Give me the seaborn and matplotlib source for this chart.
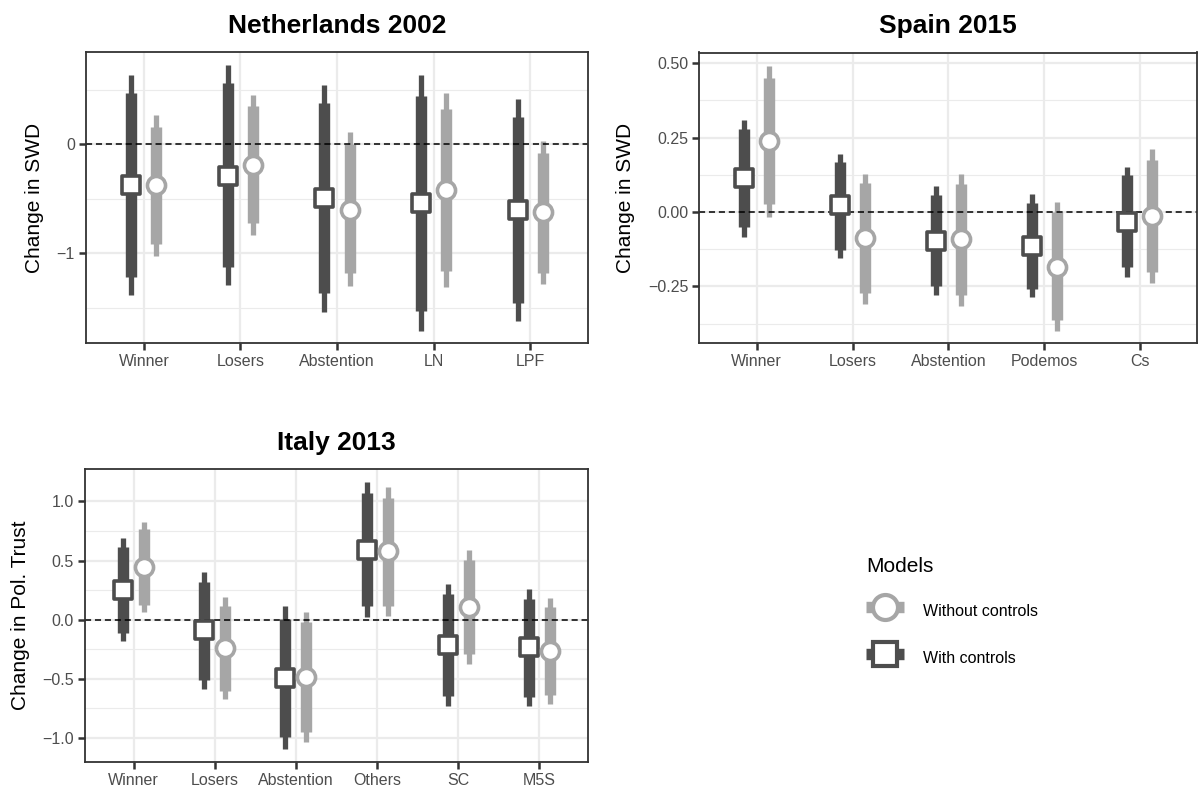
import numpy as np
import pandas as pd
import matplotlib
matplotlib.use("Agg")
import matplotlib.pyplot as plt
from matplotlib.lines import Line2D
from matplotlib.ticker import FixedLocator
import seaborn as sns

# ---------------- data ----------------
nl_cats = ["Winner", "Losers", "Abstention", "LN", "LPF"]
nl_with_est = [-0.378, -0.287, -0.497, -0.543, -0.604]
nl_with_lo90 = [-1.22, -1.128, -1.366, -1.524, -1.457]
nl_with_hi90 = [0.473, 0.558, 0.375, 0.442, 0.247]
nl_with_lo95 = [-1.38, -1.29, -1.537, -1.713, -1.622]
nl_with_hi95 = [0.637, 0.723, 0.546, 0.631, 0.412]
nl_wo_est = [-0.378, -0.186, -0.598, -0.421, -0.625]
nl_wo_lo90 = [-0.918, -0.723, -1.183, -1.162, -1.177]
nl_wo_hi90 = [0.159, 0.348, 0.0, 0.326, -0.079]
nl_wo_lo95 = [-1.02, -0.829, -1.299, -1.308, -1.284]
nl_wo_hi95 = [0.265, 0.448, 0.110, 0.473, 0.027]

es_cats = ["Winner", "Losers", "Abstention", "Podemos", "Cs"]
es_with_est = [0.113, 0.023, -0.096, -0.114, -0.032]
es_with_lo90 = [-0.051, -0.126, -0.25, -0.259, -0.185]
es_with_hi90 = [0.279, 0.169, 0.058, 0.032, 0.123]
es_with_lo95 = [-0.083, -0.155, -0.28, -0.287, -0.217]
es_with_hi95 = [0.310, 0.196, 0.088, 0.059, 0.152]
es_wo_est = [0.238, -0.088, -0.092, -0.183, -0.013]
es_wo_lo90 = [0.026, -0.272, -0.278, -0.364, -0.20]
es_wo_hi90 = [0.451, 0.096, 0.093, 0.0, 0.174]
es_wo_lo95 = [-0.018, -0.308, -0.315, -0.401, -0.237]
es_wo_hi95 = [0.492, 0.129, 0.127, 0.035, 0.211]

it_cats = ["Winner", "Losers", "Abstention", "Others", "SC", "M5S"]
it_with_est = [0.254, -0.085, -0.494, 0.593, -0.215, -0.234]
it_with_lo90 = [-0.113, -0.506, -0.994, 0.113, -0.644, -0.650]
it_with_hi90 = [0.616, 0.322, 0.006, 1.073, 0.220, 0.178]
it_with_lo95 = [-0.184, -0.585, -1.09, 0.020, -0.729, -0.729]
it_with_hi95 = [0.689, 0.401, 0.113, 1.167, 0.305, 0.260]
it_wo_est = [0.446, -0.240, -0.483, 0.579, 0.110, -0.263]
it_wo_lo90 = [0.127, -0.599, -0.946, 0.119, -0.294, -0.636]
it_wo_hi90 = [0.763, 0.119, -0.023, 1.028, 0.508, 0.110]
it_wo_lo95 = [0.062, -0.672, -1.037, 0.034, -0.373, -0.709]
it_wo_hi95 = [0.828, 0.192, 0.068, 1.119, 0.588, 0.186]

model_labels = ["Without controls", "With controls"]

# ---------------- style ----------------
sns.set_theme(style="white")
plt.rcParams['font.family'] = ['Liberation Sans', 'DejaVu Sans']
plt.rcParams['axes.unicode_minus'] = True
plt.rcParams['text.color'] = 'black'

DARK = "#4D4D4D"
LIGHT = "#A6A6A6"
GRID = "#EBEBEB"
BORDER = "#333333"
TICKC = "#4D4D4D"

W, H = 1198, 789
fig = plt.figure(figsize=(W / 100, H / 100), dpi=100)


def px_axes(l, t, r, b):
    return fig.add_axes([l / W, 1 - b / H, (r - l) / W, (b - t) / H])


DODGE = 0.13


def draw_panel(ax, cats, with_vals, wo_vals, title, ylabel, ylim, yticks, ylabels, yminor):
    n = len(cats)
    xs = np.arange(1, n + 1)
    for vals, off, col, mk, sz in [(with_vals, -DODGE, DARK, 's', 155),
                                   (wo_vals, DODGE, LIGHT, 'o', 170)]:
        est, lo90, hi90, lo95, hi95 = vals
        df = pd.DataFrame({"x": xs + off, "est": est, "lo90": lo90, "hi90": hi90,
                           "lo95": lo95, "hi95": hi95})
        ax.vlines(df["x"], df["lo95"], df["hi95"], color=col, lw=3.8, zorder=2,
                  capstyle='butt')
        ax.vlines(df["x"], df["lo90"], df["hi90"], color=col, lw=8.2, zorder=2.1,
                  capstyle='butt')
        sns.scatterplot(data=df, x="x", y="est", ax=ax, marker=mk, s=sz,
                        facecolor="white", edgecolor=col, linewidth=2.6,
                        zorder=3, legend=False)
    ax.axhline(0, color="black", lw=1.1, ls=(0, (4, 2.5)), zorder=2.5)
    ax.set_xlim(0.4, n + 0.6)
    ax.set_ylim(*ylim)
    ax.set_xticks(xs)
    ax.set_xticklabels(cats)
    ax.set_yticks(yticks)
    ax.set_yticklabels(ylabels)
    ax.yaxis.set_minor_locator(FixedLocator(yminor))
    ax.grid(True, which='major', color=GRID, lw=1.6)
    ax.grid(True, which='minor', axis='y', color=GRID, lw=0.8)
    ax.set_axisbelow(True)
    for s in ax.spines.values():
        s.set_color(BORDER)
        s.set_linewidth(1.3)
    ax.tick_params(axis='both', which='major', length=5, width=1.8, color=BORDER,
                   labelsize=11.5, labelcolor=TICKC, pad=3, left=True, bottom=True)
    ax.tick_params(axis='both', which='minor', length=0)
    ax.set_xlabel("")
    ax.set_ylabel(ylabel, fontsize=15, labelpad=9, color="black")
    ax.set_title(title, fontsize=19, fontweight='bold', pad=14, color="black")


ax1 = px_axes(86, 52, 588, 343.3)
draw_panel(ax1, nl_cats,
           (nl_with_est, nl_with_lo90, nl_with_hi90, nl_with_lo95, nl_with_hi95),
           (nl_wo_est, nl_wo_lo90, nl_wo_hi90, nl_wo_lo95, nl_wo_hi95),
           "Netherlands 2002", "Change in SWD", (-1.823, 0.844),
           [-1, 0], ["\u22121", "0"], [-1.5, -0.5, 0.5])

ax2 = px_axes(699.3, 52.5, 1197.3, 343.3)
draw_panel(ax2, es_cats,
           (es_with_est, es_with_lo90, es_with_hi90, es_with_lo95, es_with_hi95),
           (es_wo_est, es_wo_lo90, es_wo_hi90, es_wo_lo95, es_wo_hi95),
           "Spain 2015", "Change in SWD", (-0.441, 0.536),
           [-0.25, 0, 0.25, 0.5], ["\u22120.25", "0.00", "0.25", "0.50"],
           [-0.375, -0.125, 0.125, 0.375])

ax3 = px_axes(85, 469.3, 588, 761.7)
draw_panel(ax3, it_cats,
           (it_with_est, it_with_lo90, it_with_hi90, it_with_lo95, it_with_hi95),
           (it_wo_est, it_wo_lo90, it_wo_hi90, it_wo_lo95, it_wo_hi95),
           "Italy 2013", "Change in Pol. Trust", (-1.20, 1.271),
           [-1, -0.5, 0, 0.5, 1], ["\u22121.0", "\u22120.5", "0.0", "0.5", "1.0"],
           [-0.75, -0.25, 0.25, 0.75])

# ---------------- legend ----------------
handles = [
    Line2D([0], [0], color=LIGHT, lw=8.2, solid_capstyle='butt', marker='o',
           markersize=18, markerfacecolor='white', markeredgecolor=LIGHT,
           markeredgewidth=3),
    Line2D([0], [0], color=DARK, lw=8.2, solid_capstyle='butt', marker='s',
           markersize=17, markerfacecolor='white', markeredgecolor=DARK,
           markeredgewidth=3),
]
leg = fig.legend(handles, model_labels, title="Models", loc='upper left',
                 bbox_to_anchor=(866 / W, 1 - 557 / H), frameon=False,
                 fontsize=11.5, title_fontsize=15, handlelength=2.4,
                 handleheight=2.0, handletextpad=1.15, labelspacing=1.4,
                 borderpad=0, borderaxespad=0, alignment='left',
                 labelcolor='black')
leg.get_title().set_color('black')

fig.savefig("out.png", dpi=100)
